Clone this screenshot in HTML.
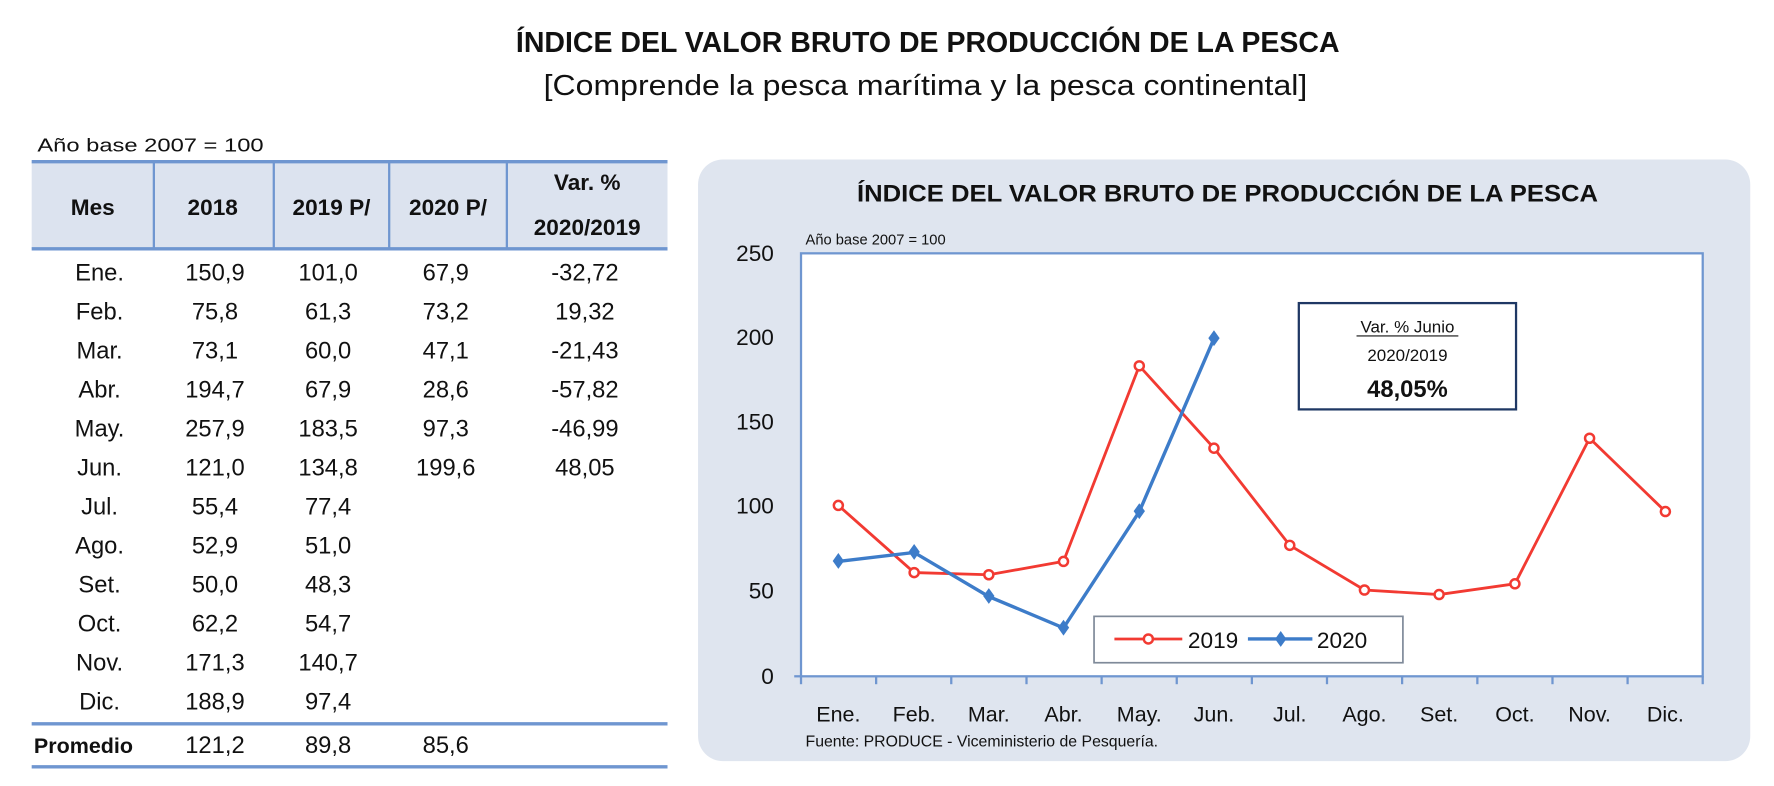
<!DOCTYPE html>
<html><head><meta charset="utf-8"><style>
html,body{margin:0;padding:0;background:#fff;}
svg{display:block;}
text{font-family:"Liberation Sans",sans-serif;fill:#111;}
</style></head><body>
<svg width="1774" height="786" viewBox="0 0 1568 695" preserveAspectRatio="none" xmlns="http://www.w3.org/2000/svg">
<text x="820" y="46" text-anchor="middle" font-size="25" font-weight="bold" textLength="728" lengthAdjust="spacingAndGlyphs">ÍNDICE DEL VALOR BRUTO DE PRODUCCIÓN DE LA PESCA</text>
<text x="818" y="84" text-anchor="middle" font-size="25" textLength="675" lengthAdjust="spacingAndGlyphs">[Comprende la pesca marítima y la pesca continental]</text>
<text x="33" y="134" font-size="16" textLength="200" lengthAdjust="spacingAndGlyphs">Año base 2007 = 100</text>
<!-- table -->
<rect x="28" y="143" width="562" height="77" fill="#dce3ef"/>
<g stroke="#6f96d0" stroke-width="3">
<line x1="28" y1="143" x2="590" y2="143"/><line x1="28" y1="220" x2="590" y2="220"/>
<line x1="28" y1="640" x2="590" y2="640"/><line x1="28" y1="678" x2="590" y2="678"/>
</g>
<g stroke="#6f96d0" stroke-width="2">
<line x1="136" y1="143" x2="136" y2="220"/><line x1="242" y1="143" x2="242" y2="220"/>
<line x1="344" y1="143" x2="344" y2="220"/><line x1="448" y1="143" x2="448" y2="220"/>
</g>
<g font-size="20" font-weight="bold" text-anchor="middle">
<text x="82" y="190">Mes</text><text x="188" y="190">2018</text><text x="293" y="190">2019 P/</text><text x="396" y="190">2020 P/</text>
<text x="519" y="168">Var. %</text><text x="519" y="208">2020/2019</text>
</g>
<g font-size="21" text-anchor="middle">
<text x="88" y="248">Ene.</text><text x="190" y="248">150,9</text><text x="290" y="248">101,0</text><text x="394" y="248">67,9</text><text x="517" y="248">-32,72</text>
<text x="88" y="282.5">Feb.</text><text x="190" y="282.5">75,8</text><text x="290" y="282.5">61,3</text><text x="394" y="282.5">73,2</text><text x="517" y="282.5">19,32</text>
<text x="88" y="317">Mar.</text><text x="190" y="317">73,1</text><text x="290" y="317">60,0</text><text x="394" y="317">47,1</text><text x="517" y="317">-21,43</text>
<text x="88" y="351.5">Abr.</text><text x="190" y="351.5">194,7</text><text x="290" y="351.5">67,9</text><text x="394" y="351.5">28,6</text><text x="517" y="351.5">-57,82</text>
<text x="88" y="386">May.</text><text x="190" y="386">257,9</text><text x="290" y="386">183,5</text><text x="394" y="386">97,3</text><text x="517" y="386">-46,99</text>
<text x="88" y="420.5">Jun.</text><text x="190" y="420.5">121,0</text><text x="290" y="420.5">134,8</text><text x="394" y="420.5">199,6</text><text x="517" y="420.5">48,05</text>
<text x="88" y="455">Jul.</text><text x="190" y="455">55,4</text><text x="290" y="455">77,4</text>
<text x="88" y="489.5">Ago.</text><text x="190" y="489.5">52,9</text><text x="290" y="489.5">51,0</text>
<text x="88" y="524">Set.</text><text x="190" y="524">50,0</text><text x="290" y="524">48,3</text>
<text x="88" y="558.5">Oct.</text><text x="190" y="558.5">62,2</text><text x="290" y="558.5">54,7</text>
<text x="88" y="593">Nov.</text><text x="190" y="593">171,3</text><text x="290" y="593">140,7</text>
<text x="88" y="627.5">Dic.</text><text x="190" y="627.5">188,9</text><text x="290" y="627.5">97,4</text>
<text x="190" y="666">121,2</text><text x="290" y="666">89,8</text><text x="394" y="666">85,6</text>
</g>
<text x="30" y="666" font-size="19" font-weight="bold">Promedio</text>
<!-- chart panel -->
<rect x="617" y="141" width="930" height="532" rx="22" fill="#dfe5ef"/>
<text x="1085" y="178" text-anchor="middle" font-size="21" font-weight="bold" fill="#222" textLength="655" lengthAdjust="spacingAndGlyphs">ÍNDICE DEL VALOR BRUTO DE PRODUCCIÓN DE LA PESCA</text>
<text x="712" y="216" font-size="13" fill="#333">Año base  2007  =  100</text>
<rect x="708" y="224" width="797" height="374" fill="#fff" stroke="#6f96d0" stroke-width="2"/>
<g stroke="#6f96d0" stroke-width="2">
<line x1="708" y1="598" x2="708" y2="605"/><line x1="774.4" y1="598" x2="774.4" y2="605"/><line x1="840.8" y1="598" x2="840.8" y2="605"/><line x1="907.3" y1="598" x2="907.3" y2="605"/><line x1="973.7" y1="598" x2="973.7" y2="605"/><line x1="1040.1" y1="598" x2="1040.1" y2="605"/><line x1="1106.5" y1="598" x2="1106.5" y2="605"/><line x1="1172.9" y1="598" x2="1172.9" y2="605"/><line x1="1239.3" y1="598" x2="1239.3" y2="605"/><line x1="1305.8" y1="598" x2="1305.8" y2="605"/><line x1="1372.2" y1="598" x2="1372.2" y2="605"/><line x1="1438.6" y1="598" x2="1438.6" y2="605"/><line x1="1505" y1="598" x2="1505" y2="605"/>
<line x1="702" y1="598" x2="708" y2="598"/>
</g>
<g font-size="20" text-anchor="end" fill="#333">
<text x="684" y="231">250</text><text x="684" y="305">200</text><text x="684" y="380">150</text><text x="684" y="454">100</text><text x="684" y="529">50</text><text x="684" y="605">0</text>
</g>
<g font-size="19" text-anchor="middle" fill="#333">
<text x="741" y="638">Ene.</text><text x="808" y="638">Feb.</text><text x="874" y="638">Mar.</text><text x="940" y="638">Abr.</text><text x="1007" y="638">May.</text><text x="1073" y="638">Jun.</text><text x="1140" y="638">Jul.</text><text x="1206" y="638">Ago.</text><text x="1272" y="638">Set.</text><text x="1339" y="638">Oct.</text><text x="1405" y="638">Nov.</text><text x="1472" y="638">Dic.</text>
</g>
<text x="712" y="660" font-size="14" fill="#333">Fuente:  PRODUCE - Viceministerio de Pesquería.</text>
<!-- annotation -->
<rect x="1148" y="268" width="192" height="94" fill="#fff" stroke="#1f3864" stroke-width="2"/>
<text x="1244" y="294" text-anchor="middle" font-size="15">Var. % Junio</text>
<line x1="1199" y1="297" x2="1289" y2="297" stroke="#111" stroke-width="1"/>
<text x="1244" y="319" text-anchor="middle" font-size="15">2020/2019</text>
<text x="1244" y="351" text-anchor="middle" font-size="21" font-weight="bold">48,05%</text>
<!-- series 2019 -->
<polyline fill="none" stroke="#f23a32" stroke-width="2.5" points="741,446.9 808,506.3 874,508.2 940,496.4 1007,323.5 1073,396.3 1140,482.2 1206,521.7 1272,525.7 1339,516.2 1405,387.5 1472,452.3"/>
<g fill="#fff" stroke="#f23a32" stroke-width="2.2">
<circle cx="741" cy="446.9" r="4"/><circle cx="808" cy="506.3" r="4"/><circle cx="874" cy="508.2" r="4"/><circle cx="940" cy="496.4" r="4"/><circle cx="1007" cy="323.5" r="4"/><circle cx="1073" cy="396.3" r="4"/><circle cx="1140" cy="482.2" r="4"/><circle cx="1206" cy="521.7" r="4"/><circle cx="1272" cy="525.7" r="4"/><circle cx="1339" cy="516.2" r="4"/><circle cx="1405" cy="387.5" r="4"/><circle cx="1472" cy="452.3" r="4"/>
</g>
<!-- series 2020 -->
<polyline fill="none" stroke="#3d7cc9" stroke-width="3" points="741,496.4 808,488.5 874,527.5 940,555.2 1007,452.4 1073,299.4"/>
<g fill="#3d7cc9">
<path d="M741,489 l5,7 l-5,7 l-5,-7z"/><path d="M808,481 l5,7 l-5,7 l-5,-7z"/><path d="M874,520 l5,7 l-5,7 l-5,-7z"/><path d="M940,548 l5,7 l-5,7 l-5,-7z"/><path d="M1007,445 l5,7 l-5,7 l-5,-7z"/><path d="M1073,292 l5,7 l-5,7 l-5,-7z"/>
</g>
<!-- legend -->
<rect x="967" y="545" width="273" height="41" fill="#fff" stroke="#7f8a99" stroke-width="1.5"/>
<line x1="985" y1="565" x2="1045" y2="565" stroke="#f23a32" stroke-width="2.5"/>
<circle cx="1015" cy="565" r="4" fill="#fff" stroke="#f23a32" stroke-width="2.2"/>
<text x="1050" y="573" font-size="20" fill="#333">2019</text>
<line x1="1103" y1="565" x2="1160" y2="565" stroke="#3d7cc9" stroke-width="3"/>
<path d="M1132,558 l5,7 l-5,7 l-5,-7z" fill="#3d7cc9"/>
<text x="1164" y="573" font-size="20" fill="#333">2020</text>
</svg>
</body></html>
